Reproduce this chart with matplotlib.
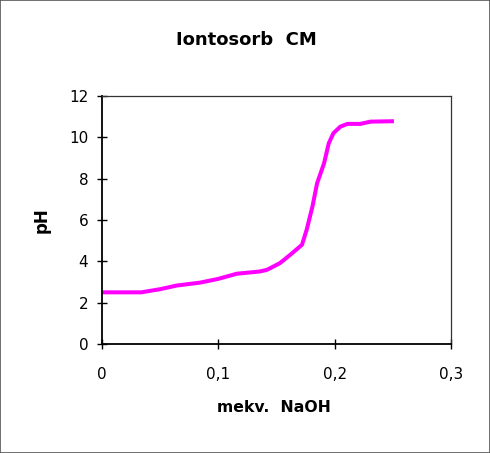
import matplotlib
matplotlib.use("Agg")
import matplotlib.pyplot as plt
from matplotlib.ticker import FixedLocator, FuncFormatter
from matplotlib.patches import Rectangle

plt.rcParams['font.family'] = ['DejaVu Sans']

title = "Iontosorb  CM"
xlabel = "mekv.  NaOH"
ylabel = "pH"

naoh = [0.0, 0.034, 0.05, 0.0645, 0.0845, 0.1, 0.116, 0.136, 0.142, 0.153, 0.162,
        0.172, 0.176, 0.181, 0.185, 0.191, 0.195, 0.199, 0.205, 0.211, 0.222, 0.231, 0.251]
ph = [2.5, 2.5, 2.65, 2.83, 2.97, 3.15, 3.4, 3.51, 3.59, 3.91, 4.32,
      4.8, 5.52, 6.65, 7.78, 8.75, 9.71, 10.2, 10.52, 10.65, 10.65, 10.76, 10.78]

xticks = [0, 0.1, 0.2, 0.3]
yticks = [0, 2, 4, 6, 8, 10, 12]

fig = plt.figure(figsize=(4.90, 4.53), dpi=100)
ax = fig.add_axes([101.7/490, 109/453, (451-101.7)/490, (344-96)/453])

ax.plot(naoh, ph, color='#FF00FF', lw=2.9, solid_joinstyle='round', solid_capstyle='butt')

ax.set_xlim(0, 0.3)
ax.set_ylim(0, 12)
ax.xaxis.set_major_locator(FixedLocator(xticks))
ax.yaxis.set_major_locator(FixedLocator(yticks))
ax.xaxis.set_major_formatter(FuncFormatter(lambda v, p: ('%g' % round(v, 3)).replace('.', ',')))
ax.yaxis.set_major_formatter(FuncFormatter(lambda v, p: '%d' % v))
ax.tick_params(direction='inout', length=7.2, width=1.0, labelsize=11, color='black')
ax.tick_params(axis='x', pad=13)
ax.tick_params(axis='y', pad=6)

for s in ['left', 'bottom']:
    ax.spines[s].set_linewidth(1.3)
for s in ['top', 'right']:
    ax.spines[s].set_linewidth(0.9)
    ax.spines[s].set_color('#333333')

fig.text(246/490, 1 - 40/453, title, fontsize=13, fontweight='bold', ha='center', va='center')
fig.text(274/490, 1 - 407/453, xlabel, fontsize=11.3, fontweight='bold', ha='center', va='center')
fig.text(42/490, 1 - 220/453, ylabel, fontsize=12, fontweight='bold', ha='center', va='center',
         rotation=90)

fig.patches.append(Rectangle((0, 0), 1, 1, transform=fig.transFigure, fill=False,
                             edgecolor='#555555', lw=1.2))

fig.savefig("out.png", dpi=100)
